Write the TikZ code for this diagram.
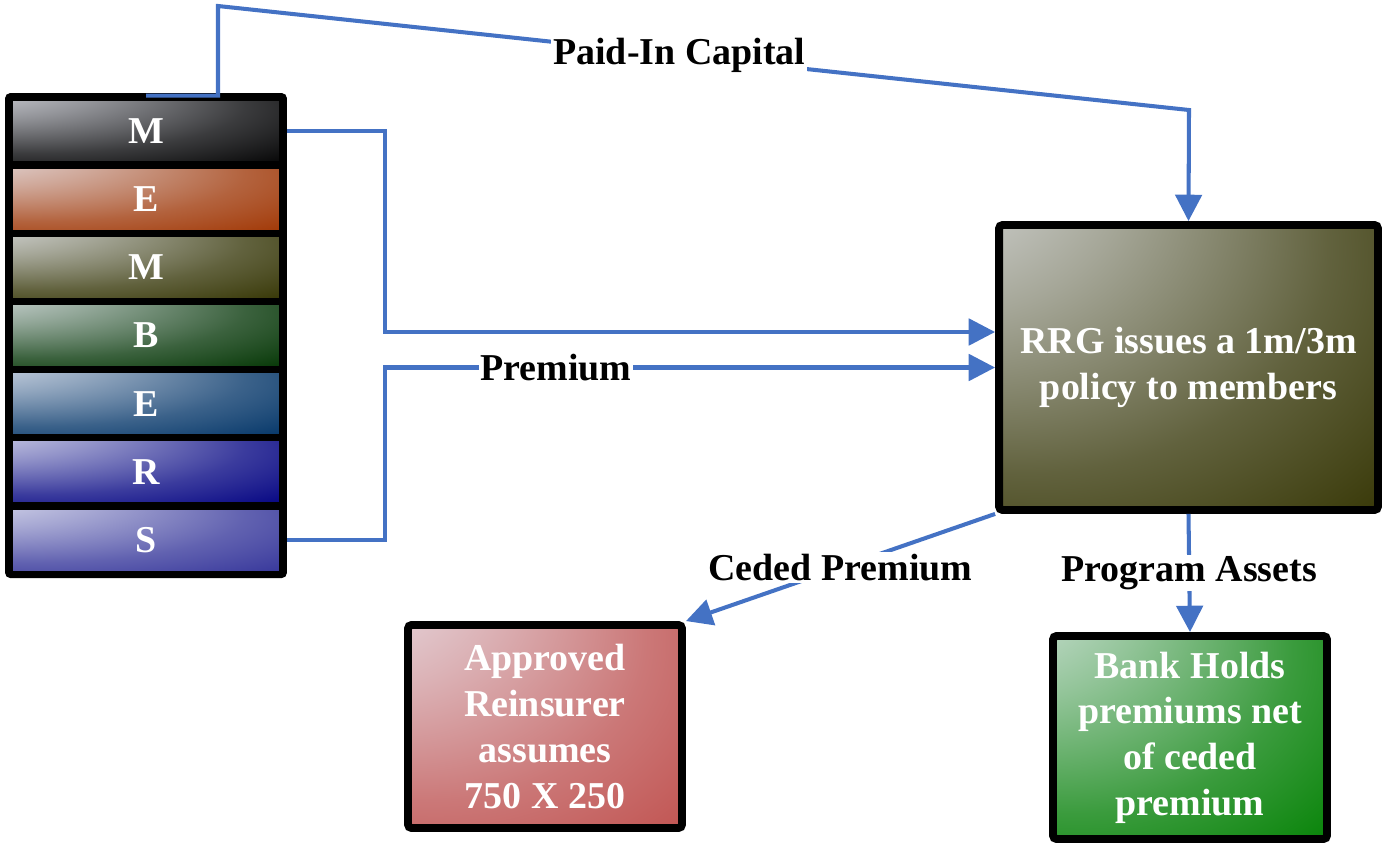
\documentclass[tikz,border=0pt]{standalone}
\usepackage{fontspec}
\setmainfont{Liberation Serif}
\usetikzlibrary{arrows.meta, positioning, fit, backgrounds}
\definecolor{flowblue}{RGB}{68,114,196}
\definecolor{glowhi}{RGB}{236,238,246}
\definecolor{glowlo}{RGB}{0,0,0}
\definecolor{memberblack}{RGB}{0,0,0}
\definecolor{memberrust}{RGB}{160,52,0}
\definecolor{memberolive}{RGB}{51,51,0}
\definecolor{memberforest}{RGB}{0,51,0}
\definecolor{membersteel}{RGB}{0,51,102}
\definecolor{membernavy}{RGB}{0,0,128}
\definecolor{memberindigo}{RGB}{51,51,153}
\definecolor{reinsred}{RGB}{192,80,77}
\definecolor{bankgreen}{RGB}{0,128,0}
\pgfdeclareradialshading[glowhi,glowlo]{cornerglow}{\pgfpoint{-50bp}{50bp}}{%
  color(0bp)=(glowhi); color(10bp)=(glowhi!92!glowlo); color(24bp)=(glowhi!62!glowlo);
  color(40bp)=(glowhi!25!glowlo); color(55bp)=(glowlo); color(70bp)=(glowlo)}
\newcommand{\diagfont}{\fontsize{21.6}{26}\selectfont\bfseries}
\tikzset{
    % Corner-lit fill for bars and boxes
    glow/.style={/utils/exec={\colorlet{glowlo}{#1}}, shading=cornerglow},
    % One letter bar of the members stack
    memberbar/.style={rectangle, glow=#1, minimum width=5.32cm, minimum height=1.2cm,
      inner sep=0pt, outer sep=0pt, font=\diagfont, text=white},
    % Framed boxes
    flowbox/.style={rectangle, glow=#1, draw=black, line width=4.5pt, rounded corners=2pt,
      font=\diagfont, text=white, align=center, inner sep=0pt},
    % Connectors and their labels
    flowline/.style={-{Triangle[length=15pt, width=15pt]}, line width=2.3pt, color=flowblue},
    flowlabel/.style={fill=white, inner sep=1pt, font=\diagfont, text=black},
}
\begin{document}
\begin{tikzpicture}[x=0.02cm, y=-0.02cm]
\useasboundingbox (0,0) rectangle (1383,845);

% ============================================================
% Members stack
% ============================================================
\node[memberbar=memberblack] (bar1) at (146,131) {M};
\node[memberbar=memberrust, below=0.164cm of bar1] (bar2) {E};
\node[memberbar=memberolive, below=0.164cm of bar2] (bar3) {M};
\node[memberbar=memberforest, below=0.164cm of bar3] (bar4) {B};
\node[memberbar=membersteel, below=0.164cm of bar4] (bar5) {E};
\node[memberbar=membernavy, below=0.164cm of bar5] (bar6) {R};
\node[memberbar=memberindigo, below=0.164cm of bar6] (bar7) {S};

\begin{scope}[on background layer]
  \node[fit=(bar1)(bar7), inner sep=0.16cm, fill=black, rounded corners=3pt] (members) {};
\end{scope}

% ============================================================
% Boxes
% ============================================================
\node[flowbox=memberolive, minimum width=7.58cm, minimum height=5.7cm] (rrg) at (1188.5,367.5)
  {RRG issues a 1m/3m\\policy to members};
\node[flowbox=reinsred, minimum width=5.48cm, minimum height=4.06cm] (reins) at (545,726.5)
  {Approved\\Reinsurer\\assumes\\750 X 250};
\node[flowbox=bankgreen, minimum width=5.48cm, minimum height=4.06cm] (bank) at (1190,737.5)
  {Bank Holds\\premiums net\\of ceded\\premium};

% ============================================================
% Connectors
% ============================================================
\coordinate (bendx) at (385,0);
\coordinate (capA) at (218,6);
\coordinate (capB) at (1189,110);
\coordinate (rrgin) at ([yshift=0.71cm]rrg.west);

\draw[flowline] ([yshift=-0.06cm]members.north) -| (capA)
  -- node[flowlabel, pos=0.475] {Paid-In Capital} (capB) -- (rrg.north);
\draw[flowline] (members.east |- bar1) -| (rrgin -| bendx) -- (rrgin);
\draw[flowline] (members.east |- bar7) -| (rrg.west -| bendx)
  -- node[flowlabel, pos=0.28] {Premium} (rrg.west);
\draw[flowline] (rrg.south west) -- node[flowlabel] {Ceded Premium} (reins.north east);
\draw[flowline] (rrg.south) -- node[flowlabel] {Program Assets} (bank.north);

\end{tikzpicture}
\end{document}
